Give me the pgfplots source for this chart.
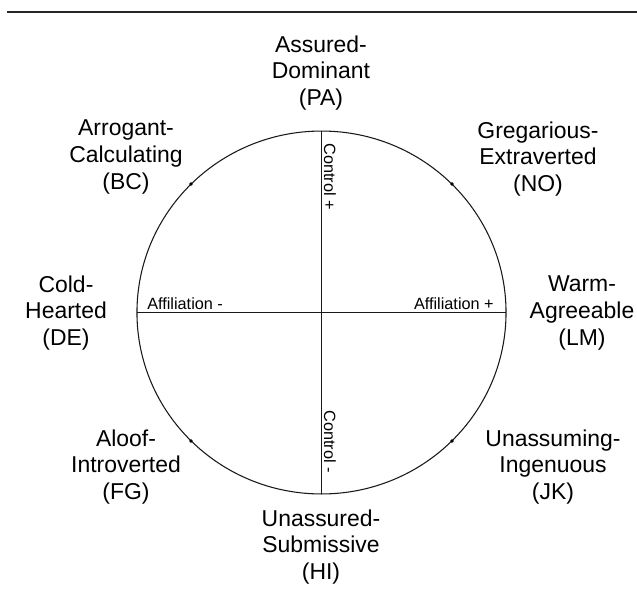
\documentclass[border=0pt]{standalone}
\usepackage{pgfplots}
\pgfplotsset{compat=1.18}
\usepackage{fontspec}
\setmainfont{Liberation Sans}
\begin{document}
\begin{tikzpicture}
\begin{axis}[
  scale only axis, width=477.75pt, height=444.75pt,
  xmin=0, xmax=637, ymin=0, ymax=593, y dir=reverse,
  hide axis, clip=false,
]
\coordinate (ll) at (axis cs:0,593);
\coordinate (ur) at (axis cs:637,0);
% top rule
\addplot[line width=2.2pt, color=black!85] coordinates {(7,12) (637,12)};
% circle
\draw[line width=0.8pt, black!90] (axis cs:321.5,312.5) ellipse [x radius=138.4pt, y radius=136.1pt];
% axes
\addplot[line width=0.9pt, black!90] coordinates {(137,312.5) (506,312.5)};
\addplot[line width=0.9pt, black!90] coordinates {(321.5,131) (321.5,494)};
% dots at 45 degrees
\addplot[only marks, mark=*, mark size=1.1pt, black] coordinates {(191,184) (452,184) (191,441) (452,441)};
% axis labels
\node[anchor=base west, inner sep=0pt, font=\fontsize{12.2}{14}\selectfont] at (axis cs:147,309) {Affiliation -};
\node[anchor=base east, inner sep=0pt, font=\fontsize{12.2}{14}\selectfont] at (axis cs:494,309) {Affiliation +};
\node[anchor=base west, inner sep=0pt, rotate=-90, font=\fontsize{12.2}{14}\selectfont] at (axis cs:324,143) {Control +};
\node[anchor=base east, inner sep=0pt, rotate=-90, font=\fontsize{12.2}{14}\selectfont] at (axis cs:324,473) {Control -};
% octant labels
\tikzset{oct/.style={align=center, inner sep=0pt, font=\fontsize{17.2}{19.9}\selectfont}}
\node[oct] at (axis cs:321,73) {Assured-\\Dominant\\(PA)};
\node[oct] at (axis cs:126,157) {Arrogant-\\Calculating\\(BC)};
\node[oct] at (axis cs:538,159) {Gregarious-\\Extraverted\\(NO)};
\node[oct] at (axis cs:66,313) {Cold-\\Hearted\\(DE)};
\node[oct] at (axis cs:582,313) {Warm-\\Agreeable\\(LM)};
\node[oct] at (axis cs:126,467) {Aloof-\\Introverted\\(FG)};
\node[oct] at (axis cs:553,467) {Unassuming-\\Ingenuous\\(JK)};
\node[oct] at (axis cs:321,547) {Unassured-\\Submissive\\(HI)};
\end{axis}
\pgfresetboundingbox
\path (ll) rectangle (ur);
\end{tikzpicture}
\end{document}
